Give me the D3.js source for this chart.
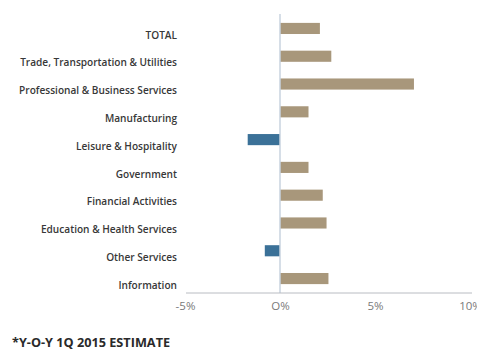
<!DOCTYPE html>
<html>
<head>
<meta charset="utf-8">
<script src="https://cdn.jsdelivr.net/npm/d3@7"></script>
<style>
  html, body { margin: 0; padding: 0; background: #fff; }
  svg { display: block; }
</style>
</head>
<body>
<svg id="chart" width="477" height="350"></svg>
<script>
// Year-over-year employment growth by sector (1Q 2015 estimate)
const categories = [
  "TOTAL",
  "Trade, Transportation & Utilities",
  "Professional & Business Services",
  "Manufacturing",
  "Leisure & Hospitality",
  "Government",
  "Financial Activities",
  "Education & Health Services",
  "Other Services",
  "Information"
];
const growth = [2.1, 2.7, 7.05, 1.5, -1.7, 1.5, 2.25, 2.45, -0.8, 2.55];
const tickValues = [-5, 0, 5, 10];
const tickLabels = ["-5%", "O%", "5%", "10%"];
const footnote = "*Y-O-Y 1Q 2015 ESTIMATE";

const svg = d3.select("#chart");
const margin = { top: 14, right: 7, bottom: 57, left: 185 };
const width = 477, height = 350;

const x = d3.scaleLinear()
  .domain([-5, 10])
  .range([margin.left, width - margin.right]);

const y = d3.scaleBand()
  .domain(categories)
  .range([margin.top, height - margin.bottom])
  .paddingInner(0.6)
  .paddingOuter(0.32);

const data = categories.map((c, i) => ({ c, v: growth[i] }));

// bars
svg.append("g")
  .selectAll("rect")
  .data(data)
  .join("rect")
  .attr("x", d => x(Math.min(0, d.v)))
  .attr("y", d => y(d.c))
  .attr("width", d => Math.abs(x(d.v) - x(0)))
  .attr("height", y.bandwidth())
  .attr("fill", d => d.v < 0 ? "#3b7198" : "#a8977b");

// zero reference line
svg.append("line")
  .attr("x1", x(0)).attr("x2", x(0))
  .attr("y1", margin.top).attr("y2", height - margin.bottom)
  .attr("stroke", "#c9d3df")
  .attr("stroke-width", 1.5);

// x axis
const xAxis = d3.axisBottom(x)
  .tickValues(tickValues)
  .tickFormat((d, i) => tickLabels[i])
  .tickSize(0)
  .tickPadding(9);

const gx = svg.append("g")
  .attr("transform", `translate(0,${height - margin.bottom})`)
  .call(xAxis);
gx.select(".domain")
  .attr("d", `M${margin.left + 1},0H${width - 5}`)
  .attr("stroke", "#b9bcc2")
  .attr("stroke-width", 1);
gx.selectAll("text")
  .attr("fill", "#7a7a7a")
  .style("font-family", "'Open Sans', sans-serif")
  .style("font-size", "11.5px");

// category labels, set slightly below the bar centres
const yAxis = d3.axisLeft(y).tickSize(0).tickPadding(0);
const gy = svg.append("g")
  .attr("transform", `translate(${margin.left - 8},7)`)
  .call(yAxis);
gy.select(".domain").remove();
gy.selectAll("text")
  .attr("fill", "#383838")
  .style("font-family", "'Open Sans', sans-serif")
  .style("font-weight", "600")
  .style("font-size", "10.1px");

// footnote
svg.append("text")
  .attr("x", 12)
  .attr("y", 347)
  .attr("fill", "#2a2a2a")
  .style("font-family", "'Open Sans', sans-serif")
  .style("font-weight", "700")
  .style("font-size", "12.7px")
  .text(footnote);
</script>
</body>
</html>
